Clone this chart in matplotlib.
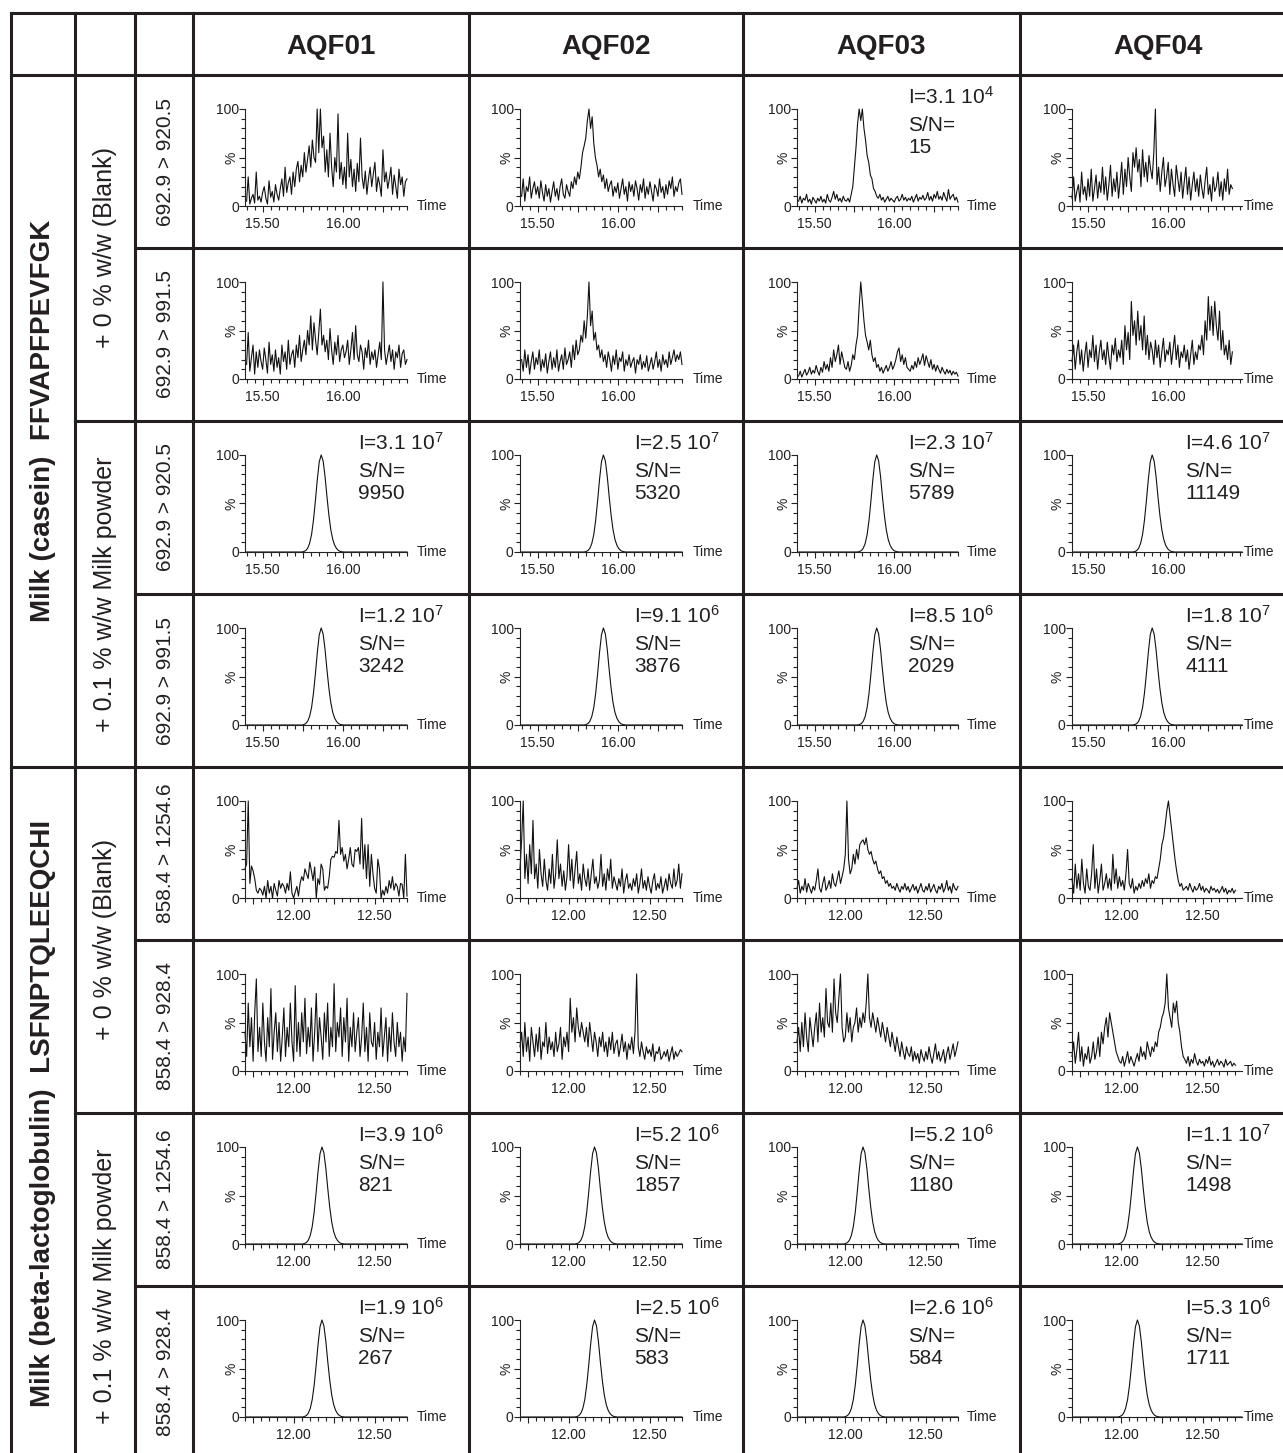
import numpy as np
import matplotlib
matplotlib.use("Agg")
import matplotlib.pyplot as plt
from matplotlib.lines import Line2D
from matplotlib.ticker import MultipleLocator, FuncFormatter, FixedLocator, FixedFormatter

plt.rcParams['font.family'] = ['Liberation Sans', 'DejaVu Sans']
plt.rcParams['mathtext.fontset'] = 'custom'
plt.rcParams['mathtext.rm'] = 'Liberation Sans'
plt.rcParams['mathtext.it'] = 'Liberation Sans:italic'
plt.rcParams['mathtext.bf'] = 'Liberation Sans:bold'

# ---------------- data ----------------
COLUMNS = ["AQF01", "AQF02", "AQF03", "AQF04"]
PEPTIDE_LABELS = ["Milk (casein)  FFVAPFPEVFGK", "Milk (beta-lactoglobulin)  LSFNPTQLEEQCHI"]
SAMPLE_LABELS = ["+ 0 % w/w (Blank)", "+ 0.1 % w/w Milk powder"]
TRANSITIONS = ["692.9 > 920.5", "692.9 > 991.5", "692.9 > 920.5", "692.9 > 991.5",
               "858.4 > 1254.6", "858.4 > 928.4", "858.4 > 1254.6", "858.4 > 928.4"]

# blank chromatograms, relative intensity (%), sampled every 0.01 min
CAS_T0 = 15.40
BLG_T0 = 11.70
TRACE_DT = 0.01

r1c1 = [5,30,2,8,12,3,35,6,10,4, 14,20,8,2,26,9,15,4,22,12, 6,18,28,10,40,14,24,30,12,35,
        20,38,46,25,42,30,55,35,48,62, 40,68,50,45,100,55,100,60,72,35, 58,30,75,40,20,50,35,95,28,45,
        22,40,18,75,30,48,20,38,15,44, 25,70,30,18,36,12,28,40,20,33, 45,15,30,22,10,58,25,35,18,28,
        40,12,32,20,8,38,22,30,10,25,28]
r1c2 = [10,28,5,20,15,30,8,18,25,12, 20,8,26,14,5,22,10,18,4,15, 25,10,18,6,20,28,12,8,22,15,
        10,25,18,30,22,35,28,40,55,62, 70,88,100,80,92,65,50,42,30,38, 25,32,18,28,15,22,26,10,20,14,
        24,8,18,28,12,20,5,25,15,22, 10,26,18,6,22,14,28,8,20,12, 25,15,5,22,18,10,28,14,20,8,
        22,12,26,18,30,10,20,15,24,28,12]
r1c3 = [5,10,3,8,6,12,4,7,2,9, 6,3,8,5,10,4,7,3,12,6, 4,9,15,7,12,5,8,4,10,6,
        5,8,4,12,20,40,60,85,100,88, 100,80,68,52,45,32,28,18,15,10, 8,12,6,9,4,7,10,5,8,6,
        4,8,10,5,7,12,6,9,5,8, 6,10,4,8,12,5,9,7,11,6, 8,14,6,10,5,12,8,15,7,10,
        6,14,9,5,17,7,10,12,6,9,4]
r1c4 = [8,30,5,15,22,4,35,12,20,6, 28,10,38,5,18,32,8,25,14,40, 12,30,6,22,42,10,28,15,35,8,
        25,45,12,38,20,50,30,15,55,40, 60,35,48,20,58,30,45,25,52,38, 28,55,100,22,40,15,35,50,20,30,
        45,12,38,22,10,42,28,15,35,8, 25,40,12,30,6,22,35,15,28,10, 32,18,8,26,40,12,22,5,30,15,
        20,35,10,25,6,28,15,38,12,22,18]
r2c1 = [15,48,8,22,35,5,28,12,30,18, 10,32,20,6,38,15,25,8,30,12, 22,5,35,18,28,10,40,15,25,30,
        12,35,22,45,18,30,40,25,50,35, 65,30,58,40,25,48,72,35,45,28, 40,20,52,30,15,38,25,45,18,30,
        35,22,28,40,15,30,48,20,55,25, 18,35,28,10,32,22,40,15,28,20, 30,12,25,38,20,100,30,15,25,35,
        18,30,10,28,22,35,12,26,30,15,20]
r2c2 = [20,8,30,12,25,5,18,28,10,22, 15,30,8,20,12,26,6,18,28,10, 22,12,30,8,18,25,10,32,15,20,
        28,12,35,20,40,25,30,45,38,60, 42,65,100,55,70,40,48,30,35,22, 30,18,25,12,28,20,8,24,15,30,
        10,22,18,28,8,20,14,25,12,18, 22,6,20,15,25,10,18,12,24,8, 15,22,10,18,28,12,20,8,25,15,
        20,12,28,15,22,30,18,25,20,28,15]
r2c3 = [3,8,2,6,10,4,7,12,5,9, 6,14,8,4,12,7,18,10,15,8, 22,12,30,18,25,35,15,28,20,12,
        10,18,8,14,25,20,35,45,75,100, 80,60,45,38,30,40,25,18,22,12, 15,8,12,6,10,14,8,12,18,10,
        14,20,28,32,18,25,15,22,12,10, 8,14,10,18,12,22,15,20,26,14, 24,18,12,20,10,15,8,14,10,6,
        12,8,5,10,6,9,4,8,5,7,3]
r2c4 = [18,35,10,28,40,15,30,8,25,38, 12,30,22,45,18,35,10,28,40,20, 30,15,38,22,10,35,25,42,18,30,
        22,40,15,55,30,48,20,80,45,60, 35,70,40,55,30,65,25,45,20,38, 30,15,40,22,35,12,28,42,18,30,
        25,38,15,30,45,20,35,12,28,22, 35,18,30,10,25,40,15,28,20,35, 30,45,25,60,40,85,50,75,45,80,
        55,40,70,30,50,25,35,20,40,15,28]
r5c1 = [30,35,100,15,33,28,20,8,5,10, 8,3,12,0,18,5,12,0,15,8, 2,18,10,15,12,5,15,8,27,5,
        0,6,12,2,15,22,18,30,25,20, 37,28,18,32,0,20,14,35,30,8, 12,10,22,40,43,42,48,46,80,45,
        52,38,45,30,40,52,35,32,50,48, 52,35,82,30,55,20,55,12,45,25, 10,5,40,30,0,8,3,12,5,18,
        10,22,8,15,12,2,15,14,0,45,2]
r5c2 = [30,60,100,20,45,15,55,25,80,20, 35,10,50,25,12,40,18,8,30,15, 45,10,25,60,20,35,12,28,8,22,
        55,18,40,10,30,48,15,25,8,35, 20,12,30,8,25,40,15,22,10,18, 45,12,25,8,30,18,40,10,22,15,
        8,20,12,30,5,18,25,10,15,8, 20,12,25,5,15,30,10,18,8,22, 12,5,18,25,8,15,10,22,5,12,
        20,8,25,15,10,30,12,18,35,10,25]
r5c3 = [10,18,5,12,8,20,6,15,10,5, 12,8,18,30,10,6,15,22,8,12, 18,10,25,15,12,20,28,15,22,30,
        45,100,40,25,30,45,35,50,40,55, 58,60,55,62,50,45,48,40,35,38, 30,25,28,20,22,15,18,12,15,10,
        12,8,15,10,6,12,9,15,8,12, 6,10,14,8,12,5,10,15,8,6, 12,8,15,6,10,14,8,5,12,9,
        15,6,10,18,8,12,5,15,10,8,12]
r5c4 = [20,5,35,10,25,8,40,15,5,30, 12,8,25,55,10,30,5,18,35,8, 15,25,10,20,8,45,15,30,10,22,
        12,18,8,25,50,15,10,20,5,12, 8,15,10,18,12,20,15,25,10,18, 15,22,20,30,40,55,62,75,90,100,
        85,70,55,40,28,18,12,15,8,10, 12,8,15,10,6,12,8,10,15,8, 12,6,10,8,5,12,8,10,6,9,
        5,8,12,6,10,4,8,6,10,5,8]
r6c1 = [40,15,70,25,55,10,60,95,20,45, 15,70,30,10,55,25,85,12,40,60, 20,50,10,35,65,15,45,25,70,30,
        10,88,20,50,15,60,30,75,18,45, 25,65,10,40,80,20,55,35,12,60, 30,70,15,45,25,90,20,50,35,65,
        15,55,30,75,10,45,25,60,20,40, 55,15,35,70,20,45,10,60,30,25, 50,12,40,25,65,15,35,55,10,45,
        20,60,30,15,50,25,40,10,35,20,80]
r6c2 = [25,40,15,50,20,35,10,45,30,15, 38,20,45,12,30,25,50,18,35,22, 30,15,40,20,28,45,12,35,25,40,
        20,75,40,55,30,65,45,35,50,40, 30,45,25,50,35,20,40,30,15,35, 25,40,20,30,15,35,22,40,18,28,
        32,15,25,38,20,30,12,28,22,35, 18,40,100,25,15,30,20,12,25,18, 22,15,28,10,20,18,25,12,15,20,
        15,22,10,18,25,12,20,15,18,22,20]
r6c3 = [30,45,20,50,25,60,35,20,55,40, 25,45,60,30,70,40,55,35,85,50, 45,70,40,95,60,50,75,100,45,30,
        35,60,40,55,30,45,50,65,40,55, 45,60,50,70,100,55,45,60,50,40, 55,45,35,50,40,30,45,35,25,40,
        30,20,35,25,15,30,20,12,25,18, 15,25,10,20,12,18,8,22,15,10, 20,12,25,15,8,18,28,12,20,10,
        15,22,8,18,25,12,20,28,15,22,30]
r6c4 = [15,30,8,22,40,10,25,5,18,12, 25,8,15,30,12,20,35,15,40,28, 45,55,35,60,50,40,30,20,15,10,
        8,15,5,12,20,8,15,10,5,12, 18,10,25,15,20,12,30,22,15,25, 20,30,25,40,45,55,60,70,100,65,
        55,45,70,60,72,50,40,25,15,12, 8,15,5,12,8,18,10,6,12,8, 10,5,12,8,15,6,10,4,8,12,
        6,10,8,4,12,6,8,10,5,8,6]

# spiked samples: peak apex retention times (min) per column
CAS_RT = [15.865, 15.91, 15.89, 15.90]
BLG_RT = [12.175, 12.16, 12.11, 12.10]
# common peak profile (offset from apex in min, % intensity)
PEAK_DT = [-0.12,-0.108,-0.096,-0.084,-0.072,-0.06,-0.048,-0.036,-0.024,-0.012,0,
           0.012,0.024,0.036,0.048,0.06,0.072,0.084,0.096,0.108,0.12,0.14]
PEAK_Y = [0,0.5,1.5,4,9,18,33,53,75,93,100,94,78,57,38,23,13,7,3.5,1.5,0.5,0]

# annotations: intensity mantissa, exponent, S/N
ROW1_I = ("3.1", 4); ROW1_SN = "15"
ROW3_I = ["3.1", "2.5", "2.3", "4.6"]; ROW3_E = [7, 7, 7, 7]; ROW3_SN = ["9950", "5320", "5789", "11149"]
ROW4_I = ["1.2", "9.1", "8.5", "1.8"]; ROW4_E = [7, 6, 6, 7]; ROW4_SN = ["3242", "3876", "2029", "4111"]
ROW7_I = ["3.9", "5.2", "5.2", "1.1"]; ROW7_E = [6, 6, 6, 7]; ROW7_SN = ["821", "1857", "1180", "1498"]
ROW8_I = ["1.9", "2.5", "2.6", "5.3"]; ROW8_E = [6, 6, 6, 6]; ROW8_SN = ["267", "583", "584", "1711"]

CAS_XLIM = [(15.39, 16.40), (15.39, 16.40), (15.39, 16.40), (15.40, 16.46)]
BLG_XLIM = [(11.70, 12.70), (11.70, 12.70), (11.70, 12.70), (11.70, 12.74)]

# ---------------- layout (pixels) ----------------
W, H = 1283, 1453
fig = plt.figure(figsize=(W / 100, H / 100), dpi=100)
COLX = [11, 75, 135, 193, 469, 743, 1020, 1295]
ROWY = [13, 75, 248, 421, 594, 767, 940, 1113, 1286, 1459]
AX_LEFT = [52, 51, 54, 52]
AX_W = [162, 162, 161, 170]
LC = '#231f20'
LW = 2.2


def fx(x):
    return x / W


def fy(y):
    return 1 - y / H


def hline(y, x0, x1):
    fig.add_artist(Line2D([fx(x0), fx(x1)], [fy(y), fy(y)], color=LC, lw=LW,
                          transform=fig.transFigure, solid_capstyle='projecting'))


def vline(x, y0, y1):
    fig.add_artist(Line2D([fx(x), fx(x)], [fy(y0), fy(y1)], color=LC, lw=LW,
                          transform=fig.transFigure, solid_capstyle='projecting'))


# table grid
hline(13, 11, W + 5)
hline(75, 11, W + 5)
hline(767, 11, W + 5)
for y in (421, 1113):
    hline(y, 75, W + 5)
for y in (248, 594, 940, 1286):
    hline(y, 135, W + 5)
for x in COLX[:-1]:
    vline(x, 13, H + 5)

# headers
for i, name in enumerate(COLUMNS):
    cx = (COLX[3 + i] + COLX[4 + i]) / 2
    fig.text(fx(cx), fy(54), name, ha='center', va='baseline', fontsize=20, fontweight='bold', color=LC)

# left labels
for g, lab in enumerate(PEPTIDE_LABELS):
    yc = (ROWY[1 + 4 * g] + ROWY[5 + 4 * g]) / 2
    fig.text(fx(43), fy(yc), lab, rotation=90, ha='center', va='center', fontsize=20,
             fontweight='bold', color=LC)
for g in range(4):
    yc = (ROWY[1 + 2 * g] + ROWY[3 + 2 * g]) / 2
    fig.text(fx(105), fy(yc), SAMPLE_LABELS[g % 2], rotation=90, ha='center', va='center',
             fontsize=18, color=LC)
for r, lab in enumerate(TRANSITIONS):
    yc = (ROWY[1 + r] + ROWY[2 + r]) / 2
    fig.text(fx(165), fy(yc), lab, rotation=90, ha='center', va='center', fontsize=15, color=LC)

blanks = {0: [r1c1, r1c2, r1c3, r1c4], 1: [r2c1, r2c2, r2c3, r2c4],
          4: [r5c1, r5c2, r5c3, r5c4], 5: [r6c1, r6c2, r6c3, r6c4]}
annots = {2: (ROW3_I, ROW3_E, ROW3_SN), 3: (ROW4_I, ROW4_E, ROW4_SN),
          6: (ROW7_I, ROW7_E, ROW7_SN), 7: (ROW8_I, ROW8_E, ROW8_SN)}


def xfmt(v, p):
    if abs(v * 2 - round(v * 2)) < 1e-6:
        return f"{v:.2f}"
    return ""


def annotate(cell_x, cell_y, mant, exp, sn):
    x = fx(cell_x + 165)
    fig.text(x, fy(cell_y + 29), r"I=%s $\mathregular{10^{%d}}$" % (mant, exp), ha='left',
             va='baseline', fontsize=15, color=LC)
    fig.text(x, fy(cell_y + 56), "S/N=", ha='left', va='baseline', fontsize=15, color=LC)
    fig.text(x, fy(cell_y + 78), sn, ha='left', va='baseline', fontsize=15, color=LC)


for r in range(8):
    cy = ROWY[1 + r]
    casein = r < 4
    for c in range(4):
        cx = COLX[3 + c]
        left = cx + AX_LEFT[c]
        ax = fig.add_axes([fx(left), fy(cy + 131), AX_W[c] / W, 97 / H])
        xlim = CAS_XLIM[c] if casein else BLG_XLIM[c]
        t0 = CAS_T0 if casein else BLG_T0
        if r in blanks:
            y = np.array(blanks[r][c], dtype=float)
            t = t0 + TRACE_DT * np.arange(len(y))
        else:
            rt = CAS_RT[c] if casein else BLG_RT[c]
            t = np.concatenate([[xlim[0] + 0.01], rt + np.array(PEAK_DT), [xlim[1]]])
            y = np.concatenate([[0], PEAK_Y, [0]])
        ax.plot(t, y, color='#111111', lw=0.8, clip_on=False)
        ax.set_xlim(*xlim)
        ax.set_ylim(0, 100)
        ax.patch.set_visible(False)
        for s in ('top', 'right'):
            ax.spines[s].set_visible(False)
        for s in ('left', 'bottom'):
            ax.spines[s].set_linewidth(0.8)
            ax.spines[s].set_color('#222222')
        ax.xaxis.set_major_locator(MultipleLocator(0.25))
        ax.xaxis.set_minor_locator(MultipleLocator(0.05))
        ax.xaxis.set_major_formatter(FuncFormatter(xfmt))
        ax.yaxis.set_major_locator(FixedLocator([0, 50, 100]))
        ax.yaxis.set_major_formatter(FixedFormatter(["0", "", "100"]))
        ax.yaxis.set_minor_locator(MultipleLocator(10))
        ax.tick_params(axis='x', which='major', direction='out', length=4.5, width=0.8,
                       labelsize=10, pad=3.5, color='#222222', labelcolor=LC)
        ax.tick_params(axis='x', which='minor', direction='out', length=2.8, width=0.8, color='#222222')
        ax.tick_params(axis='y', which='major', direction='out', length=4, width=0.8,
                       labelsize=10, pad=0.5, color='#222222', labelcolor=LC)
        ax.tick_params(axis='y', which='minor', direction='out', length=3, width=0.8, color='#222222')
        ax.text(-0.085, 0.5, "%", transform=ax.transAxes, rotation=90, ha='center', va='center',
                fontsize=10, color=LC)
        fig.text(fx(cx + 224), fy(cy + 131), "Time", ha='left', va='center', fontsize=10, color=LC)
        if r == 0 and c == 2:
            annotate(cx, cy, ROW1_I[0], ROW1_I[1], ROW1_SN)
        if r in annots:
            I, E, SN = annots[r]
            annotate(cx, cy, I[c], E[c], SN[c])

fig.savefig("out.png", dpi=100)
